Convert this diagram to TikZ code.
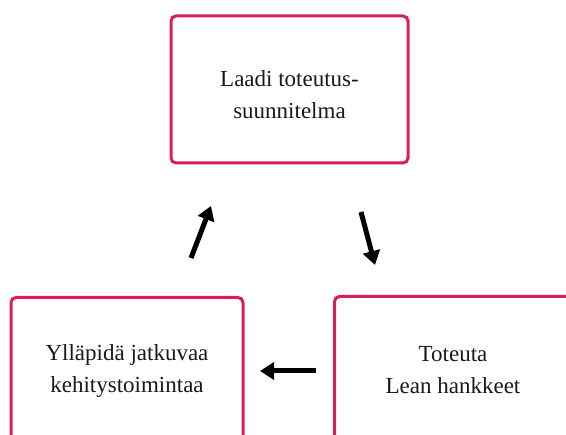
\documentclass[tikz,border=0pt]{standalone}
\usepackage{fontspec}
\setmainfont{Liberation Serif}
\usepackage{tikz}
\usetikzlibrary{positioning,arrows.meta}

\definecolor{colBox}{RGB}{218,30,86}

\tikzset{
  stepbox/.style={draw=colBox, line width=3pt, rounded corners=5pt,
    minimum width=237pt, minimum height=147pt, align=center,
    font=\fontsize{23}{32}\selectfont, text=black!90},
  cyclearrow/.style={line width=5pt, -{Triangle[length=14pt,width=17pt]}}
}

\begin{document}
\begin{tikzpicture}[x=1pt,y=-1pt]

  % fix the page size
  \useasboundingbox (0,0) rectangle (566,435);

  % the three steps of the cycle
  \node[stepbox] (plan) at (289.5, 89.5) {\rule{0pt}{26pt}Laadi toteutus-\\suunnitelma};
  \node[stepbox] (run) at (453, 370) {Toteuta\\Lean hankkeet};
  \node[stepbox, minimum width=232pt] (keep) at (127, 371) {Ylläpidä jatkuvaa\\kehitystoimintaa};

  % ends of the arrows between the steps
  \coordinate (planS) at (361, 212);
  \coordinate (runN) at (375, 265);
  \coordinate (runW) at (316, 371);
  \coordinate (keepE) at (260, 371);
  \coordinate (keepN) at (191, 258);
  \coordinate (planW) at (211, 206);

  % arrows
  \draw[cyclearrow] (planS) -- (runN);
  \draw[cyclearrow] (runW) -- (keepE);
  \draw[cyclearrow] (keepN) -- (planW);

\end{tikzpicture}
\end{document}
